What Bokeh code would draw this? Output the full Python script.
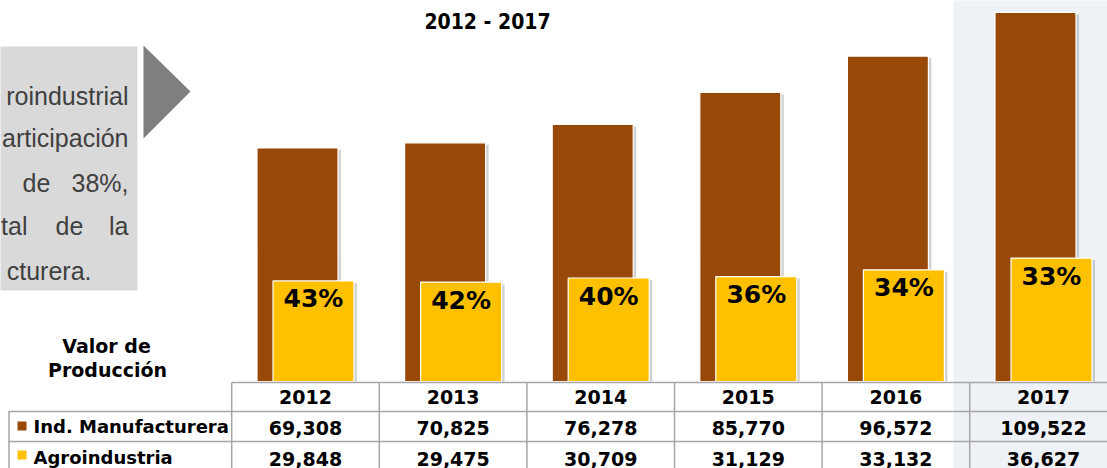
from bokeh.plotting import figure
from bokeh.models import Range1d
from bokeh.embed import file_html
from bokeh.resources import INLINE
from bokeh.core.properties import value

# ---------------- data ----------------
years = ["2012", "2013", "2014", "2015", "2016", "2017"]
manufacturera = [69308, 70825, 76278, 85770, 96572, 109522]
agroindustria = [29848, 29475, 30709, 31129, 33132, 36627]
shares = ["43%", "42%", "40%", "36%", "34%", "33%"]
series_names = ["Ind. Manufacturera", "Agroindustria"]
title_text = "2012 - 2017"
row_header = ["Valor de", "Producción"]

BROWN = "#984807"
YELLOW = "#FFC000"
GRID = "#A6A6A6"
SHADE = "#EEF2F6"

# ---------------- geometry helpers ----------------
W, H = 1107, 468
X0, DX = 305.0, 147.6          # pixel centre of first category, pixels per category
BASE, SY = 381.0, 3.37 / 1000  # baseline pixel row, pixels per unit value
PXL, PXR, PXT, PXB = 0, W, 0, H


def vx(px):
    return (px - X0) / DX


def vy(py):
    return (BASE - py) / SY


p = figure(width=W, height=H, output_backend="svg", toolbar_location=None,
           x_range=Range1d(vx(PXL), vx(PXR)), y_range=Range1d(vy(PXB), vy(PXT)),
           x_axis_location=None, y_axis_location=None,
           min_border_left=0, min_border_right=0, min_border_top=0, min_border_bottom=0)
p.extra_x_ranges = {"px": Range1d(PXL, PXR)}
p.extra_y_ranges = {"px": Range1d(PXB, PXT)}
p.grid.visible = False
p.outline_line_color = None
p.background_fill_color = "white"
p.border_fill_color = "white"

PX = dict(x_range_name="px", y_range_name="px")
XPX = dict(y_range_name="px")

# highlighted last year column
p.quad(left=953, right=1115, top=-5, bottom=475, fill_color=SHADE, line_color=None, **PX)

# left note box and arrow
p.quad(left=-10, right=137, top=46, bottom=290, fill_color="#D9D9D9", line_color=None, **PX)
p.patch([143, 143, 190], [45, 138, 91], fill_color="#7F7F7F", line_color=None, **PX)

note_font = value("Liberation Sans")
note = [
    ("roindustrial", 128, 95, "right"),
    ("articipación", 128, 137, "right"),
    ("de", 22, 182, "left"),
    ("38%,", 128, 182, "right"),
    ("tal", 27, 225, "right"),
    ("de", 55, 225, "left"),
    ("la", 128, 225, "right"),
    ("cturera.", 91, 270, "right"),
]
for t, x, y, al in note:
    p.text(x=[x], y=[y], text=[t], text_font=note_font, text_font_size="25px",
           text_color="#404040", text_align=al, text_baseline="alphabetic", **PX)

# title
p.text(x=[487], y=[21], text=[title_text], text_font=value("DejaVu Sans Condensed"),
       text_font_style="bold", text_font_size="21px", text_color="#000000",
       text_align="center", text_baseline="middle", **PX)

# ---------------- bars ----------------
idx = list(range(len(years)))
off = 8 / DX
bw = 81 / DX
sh_dx = 3 / DX
sh_dy = 2 / SY

p.vbar(x=[i - off + sh_dx for i in idx], top=[m - sh_dy for m in manufacturera], bottom=0,
       width=bw, fill_color="#7F7F7F", fill_alpha=0.35, line_color=None)
p.vbar(x=[i - off for i in idx], top=manufacturera, bottom=0, width=bw,
       fill_color=BROWN, line_color="white", line_width=1.2)
p.vbar(x=[i + off + sh_dx for i in idx], top=[a - sh_dy for a in agroindustria], bottom=0,
       width=bw, fill_color="#7F7F7F", fill_alpha=0.35, line_color=None)
p.vbar(x=[i + off for i in idx], top=agroindustria, bottom=0, width=bw,
       fill_color=YELLOW, line_color="white", line_width=1.2)

p.text(x=[i + off for i in idx], y=[a - 18 / SY for a in agroindustria], text=shares,
       text_font=value("DejaVu Sans"), text_font_style="bold", text_font_size="25px",
       text_color="#000000", text_align="center", text_baseline="middle")

# ---------------- data table ----------------
tfont = value("DejaVu Sans")
p.text(x=idx, y=[396] * 6, text=years, text_font=tfont, text_font_style="bold",
       text_font_size="19px", text_color="#000000", text_align="center",
       text_baseline="middle", **XPX)
p.text(x=idx, y=[427] * 6, text=[f"{v:,}" for v in manufacturera], text_font=tfont,
       text_font_style="bold", text_font_size="19px", text_color="#000000",
       text_align="center", text_baseline="middle", **XPX)
p.text(x=idx, y=[458] * 6, text=[f"{v:,}" for v in agroindustria], text_font=tfont,
       text_font_style="bold", text_font_size="19px", text_color="#000000",
       text_align="center", text_baseline="middle", **XPX)

# grid lines
p.segment(x0=[i - 0.5 for i in idx], x1=[i - 0.5 for i in idx], y0=[382] * 6, y1=[475] * 6,
          line_color=GRID, line_width=1.5, **XPX)
p.segment(x0=[-0.5, vx(8), vx(8)], x1=[7, 7, 7], y0=[382, 411, 441], y1=[382, 411, 441],
          line_color=GRID, line_width=1.5, **XPX)
p.segment(x0=[8.5], x1=[8.5], y0=[411], y1=[475], line_color=GRID, line_width=1.5, **PX)

# row labels with legend keys
p.quad(left=[17, 17], right=[26, 26], top=[421, 450], bottom=[430, 459],
       fill_color=[BROWN, YELLOW], line_color=None, **PX)
p.text(x=[33, 33], y=[426, 457], text=series_names, text_font=tfont, text_font_style="bold",
       text_font_size="18px", text_color="#000000", text_align="left",
       text_baseline="middle", **PX)

p.text(x=[106, 107], y=[345, 369], text=row_header, text_font=tfont, text_font_style="bold",
       text_font_size="19px", text_color="#000000", text_align="center",
       text_baseline="middle", **PX)

open("out.html", "w").write(file_html(p, INLINE))
